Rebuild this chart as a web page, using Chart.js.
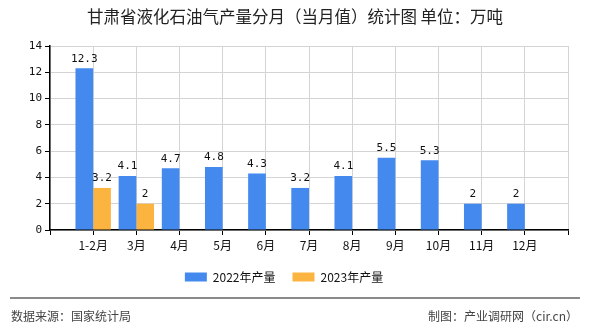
<!DOCTYPE html>
<html>
<head>
<meta charset="utf-8">
<script src="https://cdn.jsdelivr.net/npm/chart.js@4.4.1/dist/chart.umd.min.js"></script>
<style>
    body { margin: 0; background: #fff; }
    #wrap { position: relative; width: 590px; height: 330px; font-family: "Noto Sans CJK SC", sans-serif; }
    #title { position: absolute; left: 0; top: 6px; width: 590px; text-align: center; font-size: 16.5px; color: #222; line-height: 20px; }
    #footer_line { position: absolute; left: 10px; top: 297px; width: 570px; height: 0; border-top: 2px solid #8a8a8a; }
    .footer_text { position: absolute; top: 307px; font-size: 12px; color: #444; line-height: 18px; }
</style>
</head>
<body>
<div id="wrap">
    <canvas id="myChart" width="590" height="330"></canvas>
    <div id="title">甘肃省液化石油气产量分月（当月值）统计图 单位：万吨</div>
    <div id="footer_line"></div>
    <div class="footer_text" style="left: 11px;">数据来源：国家统计局</div>
    <div class="footer_text" style="right: 12px;">制图：产业调研网（cir.cn）</div>
</div>
<script>
// Months on the x axis and the monthly output (10k tons)
var months = ['1-2月', '3月', '4月', '5月', '6月', '7月', '8月', '9月', '10月', '11月', '12月'];
var output2022 = [12.3, 4.1, 4.7, 4.8, 4.3, 3.2, 4.1, 5.5, 5.3, 2, 2];
var output2023 = [3.2, 2];
var yTicks = [0, 2, 4, 6, 8, 10, 12, 14];

// Empty slot on each side so the months sit on the grid lines
var labels = [''].concat(months, ['']);

function padSeries(values) {
    var data = [null];
    for (var i = 0; i < months.length; i++) {
        data.push(i < values.length ? values[i] : null);
    }
    data.push(null);
    return data;
}

// Draw the value above every bar
var barValues = {
    id: 'barValues',
    afterDatasetsDraw: function (chart) {
        var ctx = chart.ctx;
        ctx.save();
        ctx.font = '11px "DejaVu Sans Mono", monospace';
        ctx.fillStyle = '#111';
        ctx.textAlign = 'center';
        ctx.textBaseline = 'bottom';
        chart.data.datasets.forEach(function (dataset, i) {
            var meta = chart.getDatasetMeta(i);
            meta.data.forEach(function (bar, j) {
                var value = dataset.data[j];
                if (value === null) return;
                ctx.fillText(String(value), bar.x, bar.y - 4);
            });
        });
        ctx.restore();
    }
};

var ctx = document.getElementById('myChart').getContext('2d');
var myChart = new Chart(ctx, {
    type: 'bar',
    data: {
        labels: labels,
        datasets: [{
            label: '2022年产量',
            data: padSeries(output2022),
            backgroundColor: '#448aee'
        },
        {
            label: '2023年产量',
            data: padSeries(output2023),
            backgroundColor: '#fcb441'
        }]
    },
    options: {
        responsive: false,
        animation: false,
        layout: {
            padding: { left: 0, right: 22, top: 46, bottom: 37 }
        },
        datasets: {
            bar: { categoryPercentage: 0.82, barPercentage: 1.0 }
        },
        scales: {
            x: {
                offset: false,
                grid: { offset: false, color: '#d4d4d4', tickColor: '#000', tickLength: 5 },
                border: { color: '#000', width: 1.5 },
                ticks: {
                    autoSkip: false,
                    maxRotation: 0,
                    padding: 3,
                    color: '#111',
                    font: { family: '"Noto Sans CJK SC", sans-serif', size: 12 }
                },
                afterFit: function (scale) { scale.height = 24; }
            },
            y: {
                min: 0,
                max: 14,
                afterBuildTicks: function (scale) {
                    scale.ticks = yTicks.map(function (v) { return { value: v }; });
                },
                grid: { color: '#d4d4d4', tickColor: '#000', tickLength: 5 },
                border: { color: '#000', width: 1.5 },
                ticks: {
                    padding: 3,
                    color: '#111',
                    font: { family: '"DejaVu Sans Mono", monospace', size: 11 }
                },
                afterFit: function (scale) { scale.width = 50; }
            }
        },
        plugins: {
            title: { display: false },
            tooltip: { enabled: false },
            legend: {
                position: 'bottom',
                labels: {
                    boxWidth: 22,
                    boxHeight: 9,
                    padding: 17,
                    color: '#111',
                    font: { family: '"Noto Sans CJK SC", sans-serif', size: 12 }
                }
            }
        }
    },
    plugins: [barValues]
});
</script>
</body>
</html>
